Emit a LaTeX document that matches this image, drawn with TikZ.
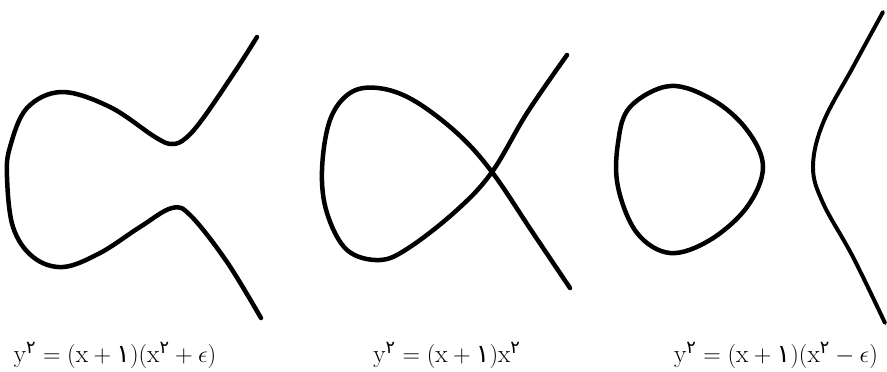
\documentclass[tikz,border=0pt]{standalone}
\usepackage{amsmath}
\usepackage{fontspec}
\newfontfamily\pdigits[Script=Arabic]{DejaVu Sans}
\newcommand{\pone}{\text{\pdigits ۱}}
\newcommand{\ptwo}{\text{\pdigits ۲}}

\tikzset{
  ecurve/.style={line width=3.2pt, line cap=round, line join=round},
  ebranch/.style={line width=2.8pt, line cap=round, line join=round},
  eqlabel/.style={anchor=base, inner sep=0pt, font=\fontsize{18}{21}\selectfont}
}

\begin{document}
\begin{tikzpicture}[x=0.025cm, y=-0.025cm]
\useasboundingbox (0,0) rectangle (887,371);

% y^2 = (x+1)(x^2+eps)
\draw[ecurve] plot[smooth, tension=0.6] coordinates {
  (257,37) (236,70) (204,117) (186,138) (172,144) (155,137) (110,107)
  (62,92) (27,108) (10,147) (7,177) (13,227) (33,257) (63,267)
  (100,253) (140,227) (172,208) (191,216) (227,262) (261,318)};

% y^2 = (x+1)x^2
\draw[ecurve] plot[smooth, tension=0.6] coordinates {
  (567,55) (527,113) (492,172) (457,210) (410,247) (380,260) (347,250)
  (327,213) (322,170) (330,120) (350,93) (378,88) (413,100) (457,133)
  (492,172) (533,233) (570,288)};

% y^2 = (x+1)(x^2-eps)
\draw[ecurve] plot[smooth cycle, tension=0.6] coordinates {
  (670,86) (713,100) (747,130) (763,167) (747,207) (710,240) (670,253)
  (637,233) (618,187) (618,143) (630,107)};
\draw[ebranch] plot[smooth, tension=0.6] coordinates {
  (883,12) (853,67) (823,123) (813,167) (823,203) (853,257) (885,323)};

\node[eqlabel] (eqa) at (115,362)
  {$\mathrm{y}^{\ptwo}=(\mathrm{x}+\pone)(\mathrm{x}^{\ptwo}+\epsilon)$};
\node[eqlabel] (eqb) at (447,362)
  {$\mathrm{y}^{\ptwo}=(\mathrm{x}+\pone)\mathrm{x}^{\ptwo}$};
\node[eqlabel] (eqc) at (776,362)
  {$\mathrm{y}^{\ptwo}=(\mathrm{x}+\pone)(\mathrm{x}^{\ptwo}-\epsilon)$};
\end{tikzpicture}
\end{document}
